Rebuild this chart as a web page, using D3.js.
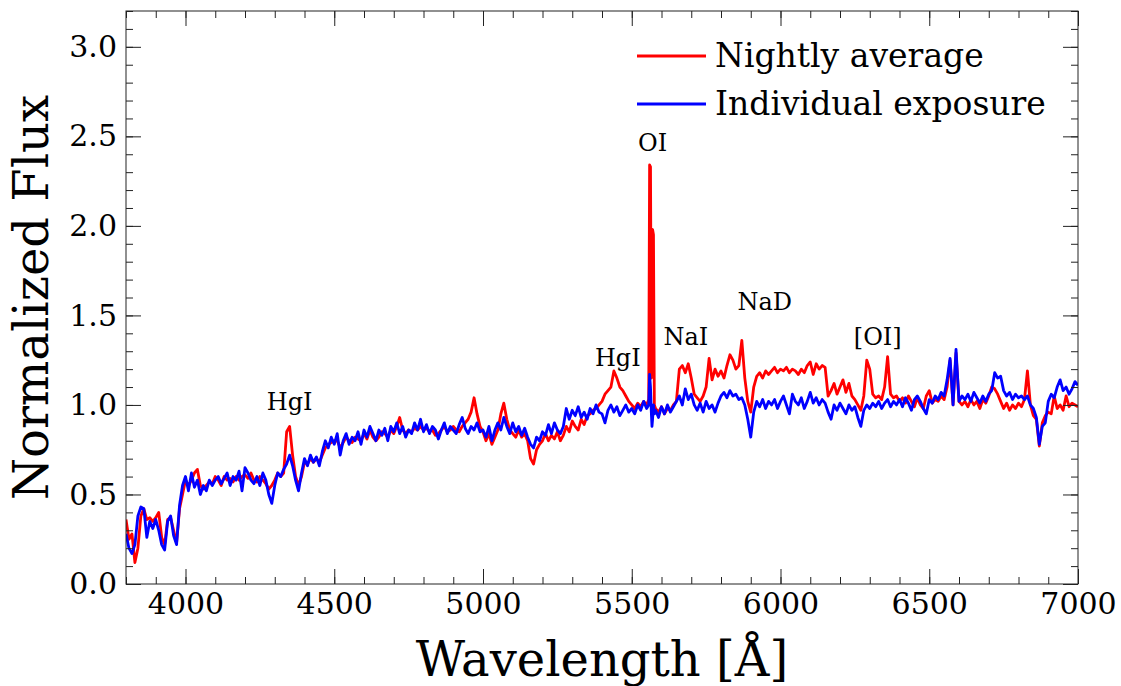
<!DOCTYPE html>
<html>
<head>
<meta charset="utf-8">
<script src="https://cdn.jsdelivr.net/npm/d3@7"></script>
<style>
  body { margin: 0; background: #fff; }
  svg { display: block; font-family: "DejaVu Serif", serif; }
</style>
</head>
<body>
<svg id="chart" width="1121" height="686"></svg>
<script>
// wavelength grid, 10 A steps
const wave = d3.range(3800, 7001, 10);

// nightly average, one row per 100 A
const avgFlux = [
  0.36, 0.25, 0.28, 0.12, 0.20, 0.38, 0.42, 0.36, 0.37, 0.35,
  0.37, 0.40, 0.26, 0.22, 0.36, 0.37, 0.30, 0.23, 0.42, 0.50,
  0.58, 0.55, 0.58, 0.62, 0.64, 0.55, 0.53, 0.55, 0.57, 0.56,
  0.60, 0.58, 0.55, 0.60, 0.58, 0.59, 0.57, 0.60, 0.58, 0.60,
  0.61, 0.59, 0.62, 0.58, 0.57, 0.60, 0.58, 0.56, 0.53, 0.55,
  0.58, 0.62, 0.60, 0.62, 0.85, 0.88, 0.72, 0.60, 0.55, 0.60,
  0.68, 0.67, 0.70, 0.68, 0.70, 0.68, 0.72, 0.76, 0.78, 0.79,
  0.80, 0.80, 0.76, 0.79, 0.82, 0.80, 0.79, 0.82, 0.81, 0.80,
  0.84, 0.81, 0.86, 0.82, 0.80, 0.82, 0.85, 0.84, 0.82, 0.86,
  0.84, 0.88, 0.93, 0.86, 0.84, 0.86, 0.85, 0.87, 0.86, 0.88,
  0.86, 0.87, 0.85, 0.86, 0.83, 0.84, 0.86, 0.88, 0.85, 0.86,
  0.88, 0.86, 0.85, 0.88, 0.90, 0.92, 0.96, 1.04, 0.95, 0.88,
  0.85, 0.80, 0.84, 0.78, 0.82, 0.86, 0.95, 1.01, 0.92, 0.86,
  0.84, 0.82, 0.86, 0.82, 0.84, 0.80, 0.70, 0.67, 0.75, 0.78,
  0.80, 0.84, 0.80, 0.83, 0.81, 0.85, 0.80, 0.83, 0.88, 0.85,
  0.91, 0.88, 0.86, 0.92, 0.89, 0.94, 0.95, 0.97, 0.98, 1.00,
  1.02, 1.06, 1.08, 1.10, 1.19, 1.15, 1.10, 1.08, 1.05, 1.02,
  1.00, 0.98, 1.01, 0.99, 1.02, 1.00, 2.34, 1.98, 0.98, 0.96,
  0.99, 0.95, 0.98, 0.97, 1.00, 1.02, 1.20, 1.22, 1.18, 1.23,
  1.15, 1.06, 1.04, 1.02, 1.05, 1.10, 1.26, 1.14, 1.20, 1.16,
  1.19, 1.15, 1.22, 1.28, 1.25, 1.20, 1.22, 1.36, 1.15, 1.02,
  0.96, 1.10, 1.16, 1.18, 1.15, 1.19, 1.17, 1.19, 1.21, 1.18,
  1.20, 1.19, 1.21, 1.18, 1.20, 1.19, 1.17, 1.20, 1.18, 1.22,
  1.24, 1.17, 1.23, 1.20, 1.22, 1.21, 1.05, 1.08, 1.12, 1.06,
  1.10, 1.14, 1.07, 1.12, 1.05, 1.03, 1.00, 0.97, 1.05, 1.25,
  1.20, 1.06, 1.04, 1.05, 1.03, 1.10, 1.27, 1.06, 1.04, 1.05,
  1.02, 1.04, 1.01, 1.05, 1.02, 0.99, 1.04, 1.00, 0.98, 1.05,
  1.08, 1.01, 1.03, 1.02, 1.05, 1.03, 1.10, 1.25, 1.00, 1.29,
  1.02, 1.00, 1.02, 0.99, 1.03, 1.00, 1.02, 0.98, 1.03, 1.01,
  1.05, 1.10, 1.09, 1.06, 1.02, 0.98, 1.01, 0.97, 1.00, 0.98,
  1.01, 0.99, 1.03, 1.19, 1.00, 0.94, 0.92, 0.77, 0.90, 0.94,
  0.96, 0.95, 1.05, 0.98, 1.00, 0.97, 1.05, 0.99, 1.01, 1.00,
  0.99
];

// individual exposure, same grid
const expFlux = [
  0.28, 0.20, 0.17, 0.22, 0.38, 0.43, 0.42, 0.26, 0.35, 0.31,
  0.36, 0.30, 0.22, 0.19, 0.35, 0.38, 0.27, 0.22, 0.44, 0.55,
  0.60, 0.52, 0.62, 0.54, 0.58, 0.50, 0.55, 0.52, 0.58, 0.55,
  0.58, 0.60, 0.56, 0.59, 0.62, 0.55, 0.60, 0.58, 0.63, 0.52,
  0.65, 0.62, 0.58, 0.56, 0.60, 0.55, 0.62, 0.58, 0.50, 0.45,
  0.55, 0.62, 0.60, 0.64, 0.67, 0.72, 0.66, 0.58, 0.52, 0.62,
  0.70, 0.66, 0.72, 0.68, 0.71, 0.66, 0.74, 0.80, 0.76, 0.82,
  0.78, 0.84, 0.72, 0.80, 0.84, 0.78, 0.82, 0.80, 0.85, 0.78,
  0.86, 0.82, 0.88, 0.84, 0.80, 0.86, 0.83, 0.87, 0.80, 0.88,
  0.85, 0.90, 0.84, 0.88, 0.82, 0.86, 0.84, 0.90, 0.86, 0.92,
  0.85, 0.89, 0.84, 0.88, 0.86, 0.81, 0.86, 0.90, 0.84, 0.88,
  0.86, 0.84, 0.89, 0.93, 0.87, 0.84, 0.88, 0.86, 0.90, 0.85,
  0.86, 0.82, 0.88, 0.80, 0.86, 0.90, 0.86, 0.93, 0.88, 0.84,
  0.90, 0.85, 0.88, 0.83, 0.87, 0.82, 0.78, 0.76, 0.82, 0.80,
  0.85, 0.83, 0.89, 0.84, 0.90, 0.86, 0.84, 0.88, 0.98, 0.92,
  0.97, 0.94, 0.99, 0.93, 0.96, 0.92, 0.98, 0.95, 1.00, 0.96,
  0.95, 0.90, 0.97, 1.00, 0.96, 0.99, 0.94, 0.97, 1.00, 0.96,
  0.98, 0.95, 1.00, 0.97, 1.02, 0.98, 1.17, 0.92, 0.97, 0.93,
  0.99, 0.95, 1.00, 0.96, 0.99, 1.02, 1.05, 1.00, 1.09, 1.03,
  1.06, 1.00, 0.97, 1.01, 0.96, 1.02, 0.98, 1.00, 0.96, 1.01,
  1.05, 1.07, 1.04, 1.08, 1.05, 1.06, 1.03, 1.04, 1.00, 0.92,
  0.82, 0.96, 1.02, 0.99, 1.03, 0.98, 1.02, 1.00, 1.03, 0.98,
  1.02, 1.05, 1.00, 0.95, 1.06, 1.02, 1.00, 1.04, 0.98, 1.02,
  1.07, 1.01, 1.04, 1.00, 1.03, 1.01, 0.96, 0.92, 1.00, 0.97,
  1.01, 0.98, 0.95, 1.00, 0.97, 0.99, 0.93, 0.88, 0.97, 1.00,
  0.98, 1.01, 0.99, 1.02, 0.98, 1.01, 1.03, 0.99, 1.02, 1.00,
  1.03, 0.99, 1.04, 1.01, 0.97, 1.03, 1.05, 1.02, 0.98, 0.95,
  1.03, 1.01, 1.05, 1.03, 1.07, 1.05, 1.14, 1.26, 1.00, 1.31,
  1.02, 1.05, 1.03, 1.06, 1.02, 1.07, 1.04, 1.01, 1.05, 1.02,
  1.06, 1.08, 1.18, 1.15, 1.16, 1.08, 1.05, 1.07, 1.03, 1.06,
  1.04, 1.05, 1.03, 1.05, 1.00, 0.98, 0.93, 0.78, 0.88, 0.90,
  1.02, 1.06, 1.04, 1.10, 1.14, 1.08, 1.10, 1.06, 1.09, 1.13,
  1.11
];

// finer samples across the OI 5577 line
const oiWave = [5557, 5563, 5566, 5568, 5573, 5576];
const oiAvg  = [1.03, 2.33, 1.15, 1.97, 1.95, 1.00];
const oiExp  = [1.00, 1.10, 0.95, 0.88, 1.00, 0.95];

// line labels (text, wavelength, flux at baseline)
const lineNames = ['HgI', 'HgI', 'OI', 'NaI', 'NaD', '[OI]'];
const lineWave  = [4350, 5453, 5570, 5682, 5947, 6327];
const lineFlux  = [0.97, 1.22, 2.42, 1.335, 1.53, 1.335];

const seriesNames = ['Nightly average', 'Individual exposure'];
const seriesColors = ['#ff0000', '#0000ff'];

const xTicks = [4000, 4500, 5000, 5500, 6000, 6500, 7000];
const yTicks = [0.0, 0.5, 1.0, 1.5, 2.0, 2.5, 3.0];

function buildSeries(base, extra) {
  const pts = wave.map((w, i) => ({ w: w, f: base[i] }));
  oiWave.forEach((w, i) => pts.push({ w: w, f: extra[i] }));
  pts.sort((a, b) => a.w - b.w);
  return pts;
}

const avgSeries = buildSeries(avgFlux, oiAvg);
const expSeries = buildSeries(expFlux, oiExp);

const margin = { left: 126, right: 43, top: 11, bottom: 102 };
const W = 1121, H = 686;
const iw = W - margin.left - margin.right;
const ih = H - margin.top - margin.bottom;

const svg = d3.select('#chart');
const g = svg.append('g').attr('transform', `translate(${margin.left},${margin.top})`);

const x = d3.scaleLinear().domain([3800, 7000]).range([0, iw]);
const y = d3.scaleLinear().domain([0, 3.2]).range([ih, 0]);

g.append('clipPath').attr('id', 'clip')
  .append('rect').attr('width', iw).attr('height', ih);

const line = d3.line().x(d => x(d.w)).y(d => y(d.f));

const plot = g.append('g').attr('clip-path', 'url(#clip)');
plot.append('path').datum(avgSeries)
  .attr('d', line).attr('fill', 'none')
  .attr('stroke', seriesColors[0]).attr('stroke-width', 2.8)
  .attr('stroke-linejoin', 'round');
plot.append('path').datum(expSeries)
  .attr('d', line).attr('fill', 'none')
  .attr('stroke', seriesColors[1]).attr('stroke-width', 2.8)
  .attr('stroke-linejoin', 'round');

// axes: ticks inward on all four sides
const minorX = d3.range(3800, 7001, 100);
const minorY = d3.range(0, 3.21, 0.1);
const major = 15, minor = 7;

function styleAxis(sel) {
  sel.select('.domain').remove();
  sel.selectAll('line').attr('stroke', '#222').attr('stroke-width', 1);
}
function styleText(sel) {
  sel.selectAll('text').attr('font-size', 30).attr('font-family', 'DejaVu Serif').attr('fill', '#000');
}

g.append('g').attr('transform', `translate(0,${ih})`)
  .call(d3.axisBottom(x).tickValues(minorX).tickSize(-minor).tickFormat(''))
  .call(styleAxis);
g.append('g').attr('transform', `translate(0,${ih})`)
  .call(d3.axisBottom(x).tickValues(xTicks).tickSize(-major).tickPadding(9).tickFormat(d3.format('d')))
  .call(styleAxis).call(styleText);
g.append('g')
  .call(d3.axisTop(x).tickValues(minorX).tickSize(-minor).tickFormat(''))
  .call(styleAxis);
g.append('g')
  .call(d3.axisTop(x).tickValues(xTicks).tickSize(-major).tickFormat(''))
  .call(styleAxis);

g.append('g')
  .call(d3.axisLeft(y).tickValues(minorY).tickSize(-minor).tickFormat(''))
  .call(styleAxis);
g.append('g')
  .call(d3.axisLeft(y).tickValues(yTicks).tickSize(-major).tickPadding(9).tickFormat(d3.format('.1f')))
  .call(styleAxis).call(styleText);
g.append('g').attr('transform', `translate(${iw},0)`)
  .call(d3.axisRight(y).tickValues(minorY).tickSize(-minor).tickFormat(''))
  .call(styleAxis);
g.append('g').attr('transform', `translate(${iw},0)`)
  .call(d3.axisRight(y).tickValues(yTicks).tickSize(-major).tickFormat(''))
  .call(styleAxis);

g.append('rect').attr('width', iw).attr('height', ih)
  .attr('fill', 'none').attr('stroke', '#222').attr('stroke-width', 1);

// line labels
g.selectAll('.lbl').data(lineNames).enter().append('text')
  .attr('class', 'lbl')
  .attr('x', (d, i) => x(lineWave[i]))
  .attr('y', (d, i) => y(lineFlux[i]))
  .attr('text-anchor', 'middle')
  .attr('font-size', 24)
  .text(d => d);

// legend
const legend = g.append('g').attr('transform', `translate(${637 - margin.left},${56 - margin.top})`);
seriesNames.forEach((name, i) => {
  const row = legend.append('g').attr('transform', `translate(0,${i * 48})`);
  row.append('line').attr('x1', 0).attr('x2', 69)
    .attr('stroke', seriesColors[i]).attr('stroke-width', 2.8);
  row.append('text').attr('x', 78).attr('y', 11)
    .attr('font-size', 33).text(name);
});

// axis titles
svg.append('text')
  .attr('x', margin.left + iw / 2).attr('y', 676)
  .attr('text-anchor', 'middle').attr('font-size', 48)
  .text('Wavelength [Å]');
svg.append('text')
  .attr('transform', `translate(48,${margin.top + ih / 2}) rotate(-90)`)
  .attr('text-anchor', 'middle').attr('font-size', 48)
  .text('Normalized Flux');
</script>
</body>
</html>
